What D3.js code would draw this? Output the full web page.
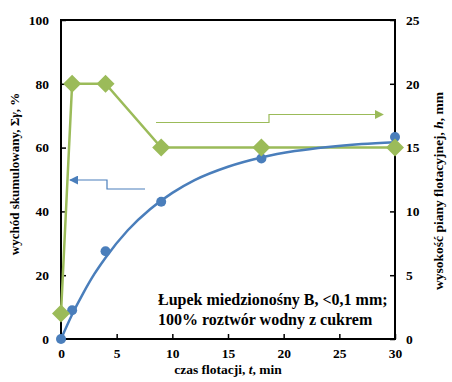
<!DOCTYPE html>
<html><head><meta charset="utf-8">
<script src="https://cdn.jsdelivr.net/npm/d3@7"></script>
<style>
body{margin:0;background:#fff;}
</style></head>
<body><svg id="c" width="452" height="382"></svg>
<script>
// Data
const timeMin = [0, 1, 4, 9, 18, 30];
const yieldPct = [0, 9, 27.5, 43, 56.6, 63.3];
const frothMm = [2, 20, 20, 15, 15, 15];
// Fitted trend line readings (t, yield)
const fitT = [0, 1, 2, 3, 4, 6, 8, 10, 12, 15, 18, 21, 24, 27, 30];
const fitY = [0, 7.7, 14.4, 20.4, 25.5, 34.1, 40.7, 45.8, 49.8, 54.0, 56.9, 58.9, 60.2, 61.1, 61.7];
const xTicks = [0, 5, 10, 15, 20, 25, 30];
const yLeftTicks = [0, 20, 40, 60, 80, 100];
const yRightTicks = [0, 5, 10, 15, 20, 25];
const noteLines = ["Łupek miedzionośny B, <0,1 mm;", "100% roztwór wodny z cukrem"];

const FONT = "'Liberation Serif','Times New Roman','DejaVu Serif',serif";
const blue = "#4a7ebb", green = "#9bbb59";
const svg = d3.select("#c");
const L = 61, R = 395, T = 20, B = 339;
const x = d3.scaleLinear().domain([0, 30]).range([L, R]);
const yL = d3.scaleLinear().domain([0, 100]).range([B, T]);
const yR = d3.scaleLinear().domain([0, 25]).range([B, T]);

function styleText(sel, size) {
  sel.style("font-family", FONT).style("font-weight", "bold").style("font-size", size).attr("fill", "#000");
}

// axes
const fs = "13.5px";
const ax = svg.append("g").attr("transform", `translate(0,${B})`)
  .call(d3.axisTop(x).tickValues(xTicks).tickSize(5).tickFormat(d3.format("d")));
ax.selectAll("text").attr("y", 19).attr("dy", "0").call(styleText, fs);
const al = svg.append("g").attr("transform", `translate(${L},0)`)
  .call(d3.axisRight(yL).tickValues(yLeftTicks).tickSize(5));
al.selectAll("text").attr("x", -12).attr("text-anchor", "end").call(styleText, fs);
const ar = svg.append("g").attr("transform", `translate(${R},0)`)
  .call(d3.axisLeft(yR).tickValues(yRightTicks).tickSize(5));
ar.selectAll("text").attr("x", 11).attr("text-anchor", "start").call(styleText, fs);
svg.selectAll(".domain").remove();
svg.selectAll(".tick line").attr("stroke", "#000").attr("stroke-width", 1.5);
svg.append("rect").attr("x", L).attr("y", T).attr("width", R - L).attr("height", B - T)
  .attr("fill", "none").attr("stroke", "#000").attr("stroke-width", 2);

// axis titles
svg.append("text").attr("x", (L + R) / 2).attr("y", 374).attr("text-anchor", "middle")
  .call(styleText, "13.5px").html('czas flotacji, <tspan font-style="italic">t</tspan>, min');
svg.append("text").attr("transform", `translate(19,174) rotate(-90)`).attr("text-anchor", "middle")
  .call(styleText, "13px").html('wychód skumulowany, Σ<tspan font-style="italic">γ</tspan>, %');
svg.append("text").attr("transform", `translate(443,191) rotate(-90)`).attr("text-anchor", "middle")
  .call(styleText, "13.5px").html('wysokość piany flotacyjnej, <tspan font-style="italic">h</tspan>,  mm');

// arrow markers
const defs = svg.append("defs");
[["ab", blue], ["ag", green]].forEach(([id, c]) => {
  defs.append("marker").attr("id", id).attr("viewBox", "0 0 10 10").attr("refX", 9).attr("refY", 5)
    .attr("markerWidth", 9).attr("markerHeight", 9).attr("markerUnits", "userSpaceOnUse").attr("orient", "auto")
    .append("path").attr("d", "M0,0L10,5L0,10z").attr("fill", c);
});

// green froth line
svg.append("path").datum(timeMin.map((t, i) => [t, frothMm[i]]))
  .attr("d", d3.line().x(d => x(d[0])).y(d => yR(d[1])))
  .attr("fill", "none").attr("stroke", green).attr("stroke-width", 2.5);

// blue fit curve
svg.append("path").datum(fitT.map((t, i) => [t, fitY[i]]))
  .attr("d", d3.line().curve(d3.curveMonotoneX).x(d => x(d[0])).y(d => yL(d[1])))
  .attr("fill", "none").attr("stroke", blue).attr("stroke-width", 2.5);

// blue points
svg.selectAll(".bp").data(timeMin).enter().append("circle")
  .attr("cx", d => x(d)).attr("cy", (d, i) => yL(yieldPct[i])).attr("r", 5).attr("fill", blue);

// green diamonds
svg.selectAll(".gd").data(timeMin).enter().append("path")
  .attr("transform", (d, i) => `translate(${x(d)},${yR(frothMm[i])})`)
  .attr("d", "M0,-9L9,0L0,9L-9,0Z").attr("fill", green);

// connector arrows
svg.append("path").attr("d", `M145,189H107V180H70`).attr("fill", "none").attr("stroke", blue)
  .attr("stroke-width", 1.2).attr("marker-end", "url(#ab)");
svg.append("path").attr("d", `M156,122.5H269V114.5H383`).attr("fill", "none").attr("stroke", green)
  .attr("stroke-width", 1.2).attr("marker-end", "url(#ag)");

// note
svg.selectAll(".note").data(noteLines).enter().append("text")
  .attr("x", 158).attr("y", (d, i) => 305 + i * 19.5).call(styleText, "16px").text(d => d);
</script></body></html>
